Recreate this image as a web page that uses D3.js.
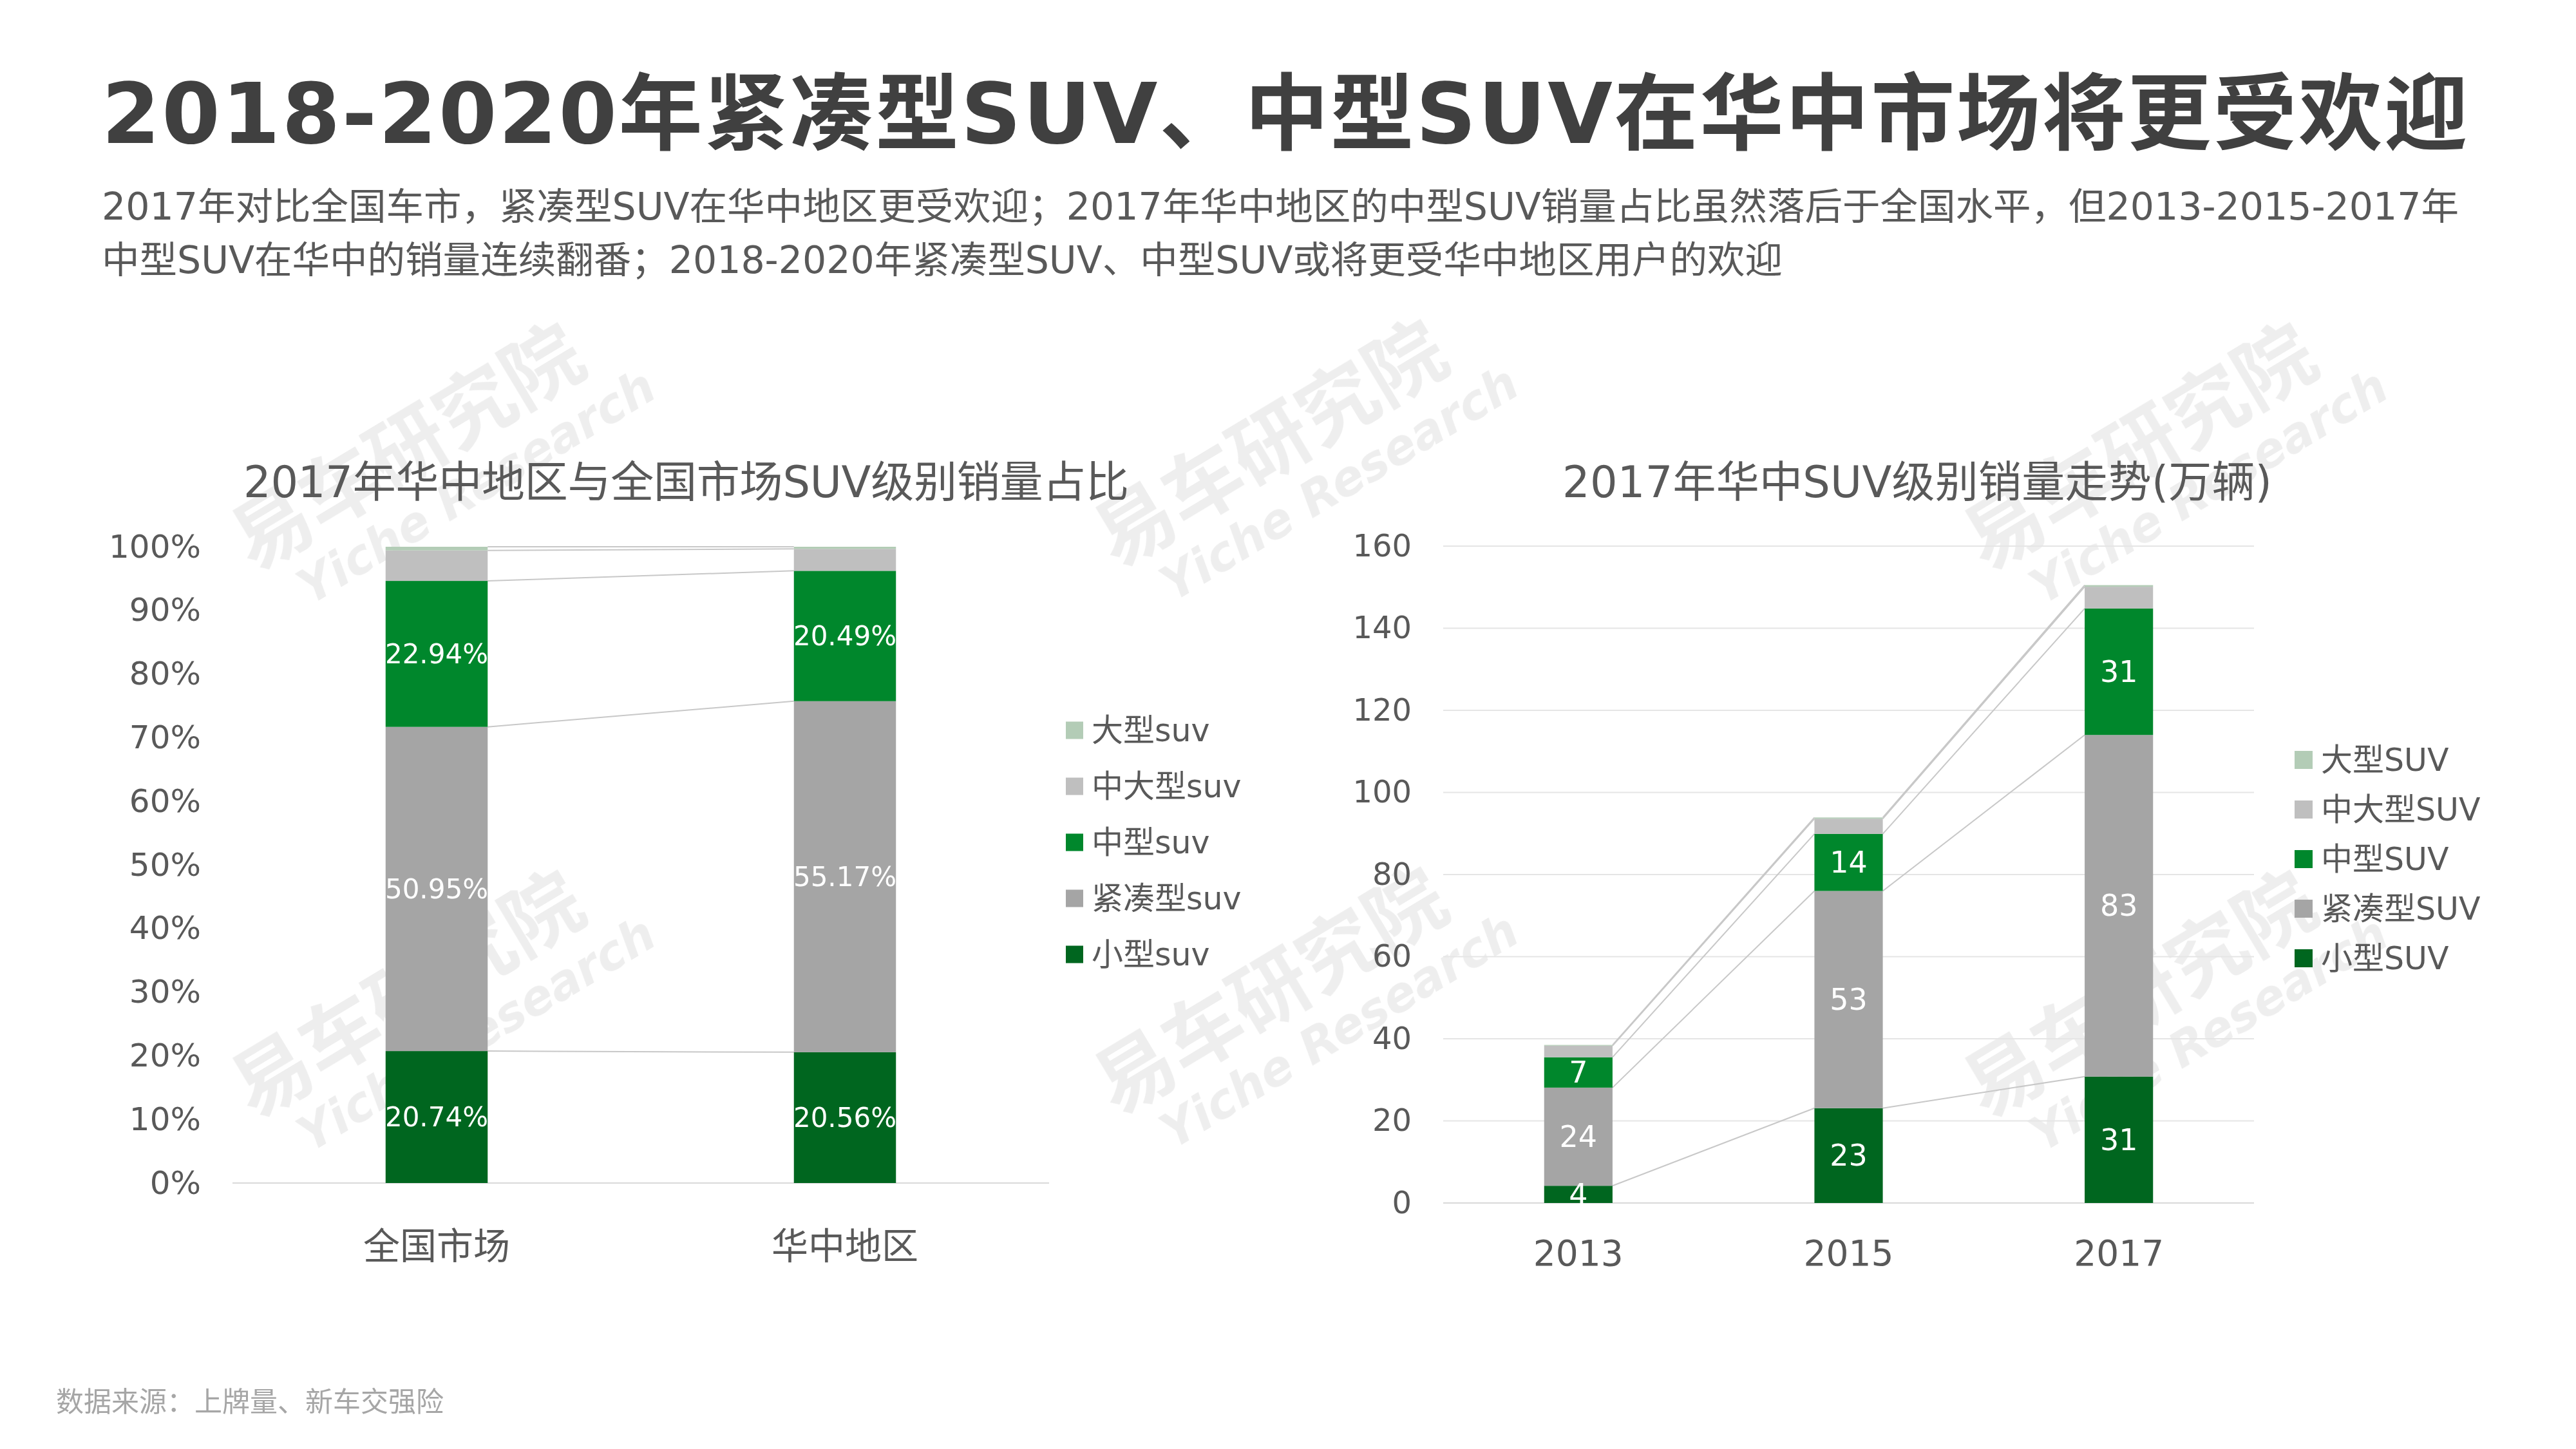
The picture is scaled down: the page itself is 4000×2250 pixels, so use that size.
<!DOCTYPE html>
<html><head><meta charset="utf-8">
<script src="https://cdn.jsdelivr.net/npm/d3@7"></script>
<style>
body{margin:0;background:#fff}
text{font-family:'DejaVu Sans','Noto Sans CJK SC',sans-serif}
</style>
</head><body>
<svg id="c" width="4000" height="2250" xmlns="http://www.w3.org/2000/svg"></svg>
<script>
// ---------- DATA ----------
const mainTitle = "2018-2020年紧凑型SUV、中型SUV在华中市场将更受欢迎";
const subtitleLines = [
  "2017年对比全国车市，紧凑型SUV在华中地区更受欢迎；2017年华中地区的中型SUV销量占比虽然落后于全国水平，但2013-2015-2017年",
  "中型SUV在华中的销量连续翻番；2018-2020年紧凑型SUV、中型SUV或将更受华中地区用户的欢迎"
];
const sourceText = "数据来源：上牌量、新车交强险";

const seriesKeys = ["small", "compact", "mid", "midLarge", "large"];
const seriesColors = ["#00661f", "#a5a5a5", "#00872c", "#bfbfbf", "#b3ccb6"];
const labelledSeries = ["small", "compact", "mid"];

// Left chart: share by SUV class (2017)
const leftTitle = "2017年华中地区与全国市场SUV级别销量占比";
const leftCategories = ["全国市场", "华中地区"];
const leftSmall = [0.2074, 0.2056];
const leftCompact = [0.5095, 0.5517];
const leftMid = [0.2294, 0.2049];
const leftMidLarge = [0.0480, 0.0345];
const leftLarge = [0.0057, 0.0033];
const leftTicks = [0, 0.1, 0.2, 0.3, 0.4, 0.5, 0.6, 0.7, 0.8, 0.9, 1.0];
const leftLegend = ["大型suv", "中大型suv", "中型suv", "紧凑型suv", "小型suv"];

// Right chart: volumes (万辆)
const rightTitle = "2017年华中SUV级别销量走势(万辆)";
const rightCategories = ["2013", "2015", "2017"];
const rightSmall = [4.2, 23.1, 30.8];
const rightCompact = [23.9, 52.9, 83.2];
const rightMid = [7.4, 13.9, 30.8];
const rightMidLarge = [2.8, 3.7, 5.3];
const rightLarge = [0.2, 0.3, 0.4];
const rightTicks = [0, 20, 40, 60, 80, 100, 120, 140, 160];
const rightLegend = ["大型SUV", "中大型SUV", "中型SUV", "紧凑型SUV", "小型SUV"];

// ---------- DRAW ----------
const svg = d3.select("#c");
const textColor = "#595959";

// watermarks (behind everything)
const wmCenters = [[660,740],[2000,735],[3350,740],[660,1590],[2000,1585],[3350,1590]];
const wm = svg.append("g").attr("opacity", 0.07);
wmCenters.forEach(([cx, cy]) => {
  const g = wm.append("g").attr("transform", `translate(${cx},${cy}) rotate(-31)`);
  g.append("text").attr("text-anchor", "middle").attr("y", -10)
    .attr("font-size", 122).attr("font-weight", "bold").attr("fill", "#000").text("易车研究院");
  g.append("text").attr("text-anchor", "middle").attr("x", 60).attr("y", 80)
    .attr("font-size", 74).attr("font-weight", "bold").attr("font-style", "italic").attr("fill", "#000").text("Yiche Research");
});

// main title
svg.append("text").attr("x", 158).attr("y", 222)
  .attr("font-size", 130).attr("font-weight", "bold").attr("fill", "#404040")
  .attr("textLength", 3674).attr("lengthAdjust", "spacing").text(mainTitle);

// subtitle
const sub1 = svg.append("text").attr("x", 158).attr("y", 341)
  .attr("font-size", 57).attr("fill", textColor).text(subtitleLines[0]);
const w1 = sub1.node().getComputedTextLength();
const subSize = 57 * 3661 / w1;
sub1.attr("font-size", subSize);
svg.append("text").attr("x", 158).attr("y", 424)
  .attr("font-size", subSize).attr("fill", textColor).text(subtitleLines[1]);

// footer
svg.append("text").attr("x", 87).attr("y", 2192)
  .attr("font-size", 43).attr("fill", "#a6a6a6").text(sourceText);

function buildTable(cats, arrs) {
  return cats.map((c, i) => {
    const o = { cat: c };
    seriesKeys.forEach((k, j) => o[k] = arrs[j][i]);
    return o;
  });
}

function drawChart(cfg) {
  const g = svg.append("g");
  const table = buildTable(cfg.categories, cfg.series);
  const stacked = d3.stack().keys(seriesKeys)(table);
  const x = d3.scaleBand().domain(cfg.categories).range(cfg.xRange)
    .paddingInner(cfg.padIn).paddingOuter(cfg.padIn / 2);
  const y = d3.scaleLinear().domain(cfg.yDomain).range(cfg.yRange);
  const bw = x.bandwidth();

  // gridlines
  if (cfg.grid) {
    g.append("g").selectAll("line").data(cfg.ticks.filter(t => t !== 0)).join("line")
      .attr("x1", cfg.xRange[0]).attr("x2", cfg.xRange[1])
      .attr("y1", d => y(d)).attr("y2", d => y(d))
      .attr("stroke", "#e5e5e5").attr("stroke-width", 2);
  }
  // baseline
  g.append("line").attr("x1", cfg.xRange[0]).attr("x2", cfg.xRange[1])
    .attr("y1", y(0)).attr("y2", y(0)).attr("stroke", "#d9d9d9").attr("stroke-width", 2);

  // y axis labels
  const yAxis = d3.axisLeft(y).tickValues(cfg.ticks).tickFormat(cfg.tickFormat).tickSize(0).tickPadding(0);
  const ya = g.append("g").attr("transform", `translate(${cfg.yLabelX},0)`).call(yAxis);
  ya.select(".domain").remove();
  ya.selectAll("text").attr("font-size", cfg.yFont).attr("fill", textColor)
    .attr("font-family", "'DejaVu Sans','Noto Sans CJK SC',sans-serif");

  // x axis labels
  const xAxis = d3.axisBottom(x).tickSize(0).tickPadding(0);
  const xa = g.append("g").attr("transform", `translate(0,${cfg.xLabelY})`).call(xAxis);
  xa.select(".domain").remove();
  xa.selectAll("text").attr("font-size", cfg.xFont).attr("fill", textColor).attr("dy", 0)
    .attr("font-family", "'DejaVu Sans','Noto Sans CJK SC',sans-serif");

  // connector lines
  const conn = g.append("g");
  stacked.forEach(s => {
    for (let j = 0; j < s.length - 1; j++) {
      conn.append("line")
        .attr("x1", x(s[j].data.cat) + bw).attr("y1", y(s[j][1]))
        .attr("x2", x(s[j + 1].data.cat)).attr("y2", y(s[j + 1][1]))
        .attr("stroke", "#c8c8c8").attr("stroke-width", 2);
    }
  });

  // bars
  stacked.forEach((s, i) => {
    g.append("g").selectAll("rect").data(s).join("rect")
      .attr("x", d => x(d.data.cat)).attr("width", bw)
      .attr("y", d => y(d[1])).attr("height", d => y(d[0]) - y(d[1]))
      .attr("fill", seriesColors[i]);
  });

  // value labels
  stacked.forEach(s => {
    if (!labelledSeries.includes(s.key)) return;
    g.append("g").selectAll("text").data(s).join("text")
      .attr("x", d => x(d.data.cat) + bw / 2)
      .attr("y", d => y((d[0] + d[1]) / 2))
      .attr("text-anchor", "middle").attr("dominant-baseline", "central")
      .attr("font-size", cfg.valFont).attr("fill", "#fff")
      .text(d => cfg.valFormat(d.data[s.key]));
  });

  // title
  g.append("text").attr("x", cfg.titleX).attr("y", 772)
    .attr("font-size", 67).attr("fill", textColor)
    .attr("textLength", cfg.titleW).attr("lengthAdjust", "spacing").text(cfg.title);

  // legend (top-to-bottom reversed series order)
  const legOrder = seriesKeys.map((k, i) => i).reverse();
  legOrder.forEach((si, r) => {
    const cy = cfg.legY + r * cfg.legStep;
    g.append("rect").attr("x", cfg.legX).attr("y", cy - cfg.legSq / 2)
      .attr("width", cfg.legSq).attr("height", cfg.legSq).attr("fill", seriesColors[si]);
    g.append("text").attr("x", cfg.legX + cfg.legSq + 13).attr("y", cy)
      .attr("dominant-baseline", "central").attr("font-size", 49).attr("fill", textColor)
      .text(cfg.legend[r]);
  });
}

drawChart({
  categories: leftCategories,
  series: [leftSmall, leftCompact, leftMid, leftMidLarge, leftLarge],
  xRange: [361, 1629], padIn: 0.75,
  yDomain: [0, 1], yRange: [1837, 849], ticks: leftTicks,
  tickFormat: d3.format(".0%"), grid: false,
  yLabelX: 312, yFont: 50, xLabelY: 1955, xFont: 57,
  valFont: 42, valFormat: d3.format(".2%"),
  title: leftTitle, titleX: 378, titleW: 1375,
  legend: leftLegend, legX: 1655, legY: 1134, legStep: 87, legSq: 27
});

drawChart({
  categories: rightCategories,
  series: [rightSmall, rightCompact, rightMid, rightMidLarge, rightLarge],
  xRange: [2241, 3500], padIn: 0.747,
  yDomain: [0, 160], yRange: [1868, 848], ticks: rightTicks,
  tickFormat: d3.format("d"), grid: true,
  yLabelX: 2192, yFont: 48, xLabelY: 1965, xFont: 55,
  valFont: 46, valFormat: d3.format(".0f"),
  title: rightTitle, titleX: 2426, titleW: 1102,
  legend: rightLegend, legX: 3563, legY: 1180, legStep: 77, legSq: 28
});
</script>
</body></html>
